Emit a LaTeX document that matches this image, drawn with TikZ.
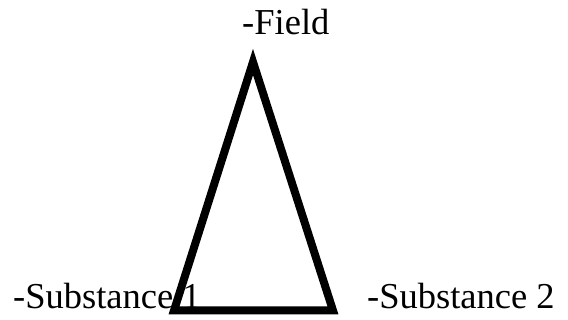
\documentclass[tikz,border=0pt]{standalone}
\usepackage{fontspec}
\setmainfont{Liberation Serif}
\begin{document}
\begin{tikzpicture}[x=1pt,y=1pt,
  lbl/.style={inner sep=0pt,anchor=base west,font=\fontsize{36.5}{42}\selectfont},
  tri/.style={line width=8pt,line join=miter}]
\useasboundingbox (0,0) rectangle (568,320);
\node[lbl] (field) at (242,285) {-Field};
\node[lbl] (s1) at (13,11) {-Substance 1};
\node[lbl] (s2) at (367,11) {-Substance 2};
\coordinate (apex) at (253,258);
\coordinate (bl) at (174,9.5);
\coordinate (br) at (333,9.5);
\draw[tri] (apex) -- (bl) -- (br) -- cycle;
\end{tikzpicture}
\end{document}
